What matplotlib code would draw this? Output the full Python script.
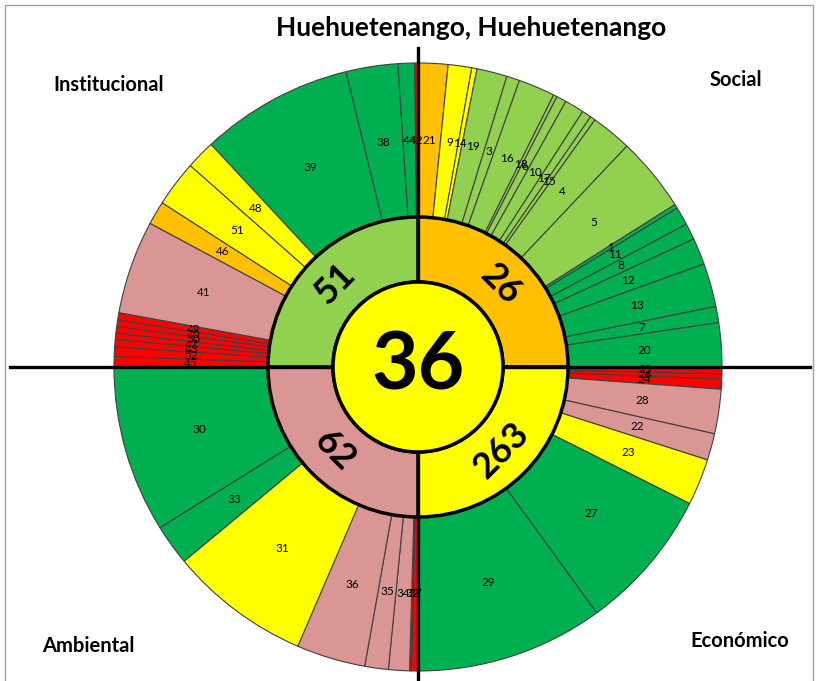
import numpy as np
import matplotlib
matplotlib.use("Agg")
import matplotlib.pyplot as plt
from matplotlib.patches import Rectangle

plt.rcParams["font.family"] = ["Lato", "DejaVu Sans"]

COLORS = {"G": "#00B050", "L": "#92D050", "Y": "#FFFF00",
          "O": "#FFC000", "P": "#DA9694", "R": "#FF0000"}

# outer ring, clockwise from the top: indicator id, angular share (deg), colour code
social_ids = [21, 9, 14, 19, 3, 16, 18, 6, 10, 17, 15, 4, 5, 1, 11, 8, 12, 13, 7, 20]
social_deg = [5.7, 4.5, 1.0, 5.8, 2.5, 7.0, 0.7, 1.9, 3.7, 1.8, 1.0, 7.8, 14.3,
              0.8, 3.5, 3.1, 5.1, 8.3, 3.1, 8.4]
social_col = "OYYLLLLLLLLLLGGGGGGG"

econ_ids = [25, 26, 24, 28, 22, 23, 27, 29]
econ_deg = [1.3, 1.0, 1.9, 8.5, 5.1, 8.9, 27.3, 36.0]
econ_col = "RRRPPYGG"

amb_ids = [37, 32, 34, 35, 36, 31, 33, 30]
amb_deg = [1.2, 0.4, 4.0, 4.5, 13.2, 27.0, 7.8, 31.9]
amb_col = "RRPPPYGG"

inst_ids = [45, 52, 43, 47, 50, 40, 49, 41, 46, 51, 48, 39, 38, 44, 42]
inst_deg = [2.0, 1.8, 1.4, 1.2, 1.3, 1.2, 1.4, 17.9, 4.5, 8.8, 5.6, 29.2, 9.9, 3.2, 0.6]
inst_col = "RRRRRRRPOYYGGGR"

# middle ring (dimensions) and centre value
dims = ["Social", "Económico", "Ambiental", "Institucional"]
dim_vals = [26, 263, 62, 51]
dim_col = "OYPL"
total_val = 36

W, H = 818, 681
cx, cy = 418, H - 367
R_OUT, R_MID, R_IN = 304, 150, 85

fig = plt.figure(figsize=(W / 100, H / 100), dpi=100)
ax = fig.add_axes([0, 0, 1, 1])

ids = social_ids + econ_ids + amb_ids + inst_ids
degs = social_deg + econ_deg + amb_deg + inst_deg
cols = [COLORS[c] for c in social_col + econ_col + amb_col + inst_col]

wedges, texts = ax.pie(degs, labels=[str(i) for i in ids], colors=cols,
                       startangle=90, counterclock=False, center=(cx, cy),
                       radius=R_OUT, labeldistance=(R_OUT + R_MID) / 2 / R_OUT,
                       wedgeprops=dict(width=R_OUT - R_MID, edgecolor="#404040",
                                       linewidth=0.8),
                       textprops=dict(fontsize=8.5, color="black"))
for t in texts:
    t.set_ha("center"); t.set_va("center")

mw, _ = ax.pie([1] * len(dims), colors=[COLORS[c] for c in dim_col],
               startangle=90, counterclock=False, center=(cx, cy),
               radius=R_MID, wedgeprops=dict(width=R_MID - R_IN,
                                             edgecolor="black", linewidth=2.5))
for w, v in zip(mw, dim_vals):
    mid = np.deg2rad((w.theta1 + w.theta2) / 2)
    r = (R_MID + R_IN) / 2
    rot = np.rad2deg(mid) - 90 if np.sin(mid) > 0 else np.rad2deg(mid) + 90
    ax.text(cx + r * np.cos(mid), cy + r * np.sin(mid), str(v), fontsize=26,
            fontweight="bold", rotation=rot, ha="center", va="center",
            rotation_mode="anchor", zorder=5)

# cross hairs sit over the rings but under the centre disc
ax.plot([10, 810], [cy, cy], color="black", lw=2.4, zorder=3)
ax.plot([cx, cx], [0, H - 48], color="black", lw=2.4, zorder=3)

cw, _ = ax.pie([1], colors=[COLORS["Y"]], center=(cx, cy), radius=R_IN,
               wedgeprops=dict(edgecolor="black", linewidth=2.5))
for w in cw:
    w.set_zorder(4)
ax.text(cx, cy, str(total_val), fontsize=58, fontweight="bold",
        ha="center", va="center", zorder=5)

ax.text(471, H - 28, "Huehuetenango, Huehuetenango", fontsize=19,
        fontweight="bold", ha="center", va="center")
ax.text(109, H - 85, "Institucional", fontsize=14.5, fontweight="bold", ha="center", va="center")
ax.text(736, H - 80, "Social", fontsize=14.5, fontweight="bold", ha="center", va="center")
ax.text(88, H - 646, "Ambiental", fontsize=14.5, fontweight="bold", ha="center", va="center")
ax.text(740, H - 641, "Económico", fontsize=14.5, fontweight="bold", ha="center", va="center")

ax.add_patch(Rectangle((5, -10), 808, H - 5 + 10, fill=False,
                       edgecolor="#A0A0A0", lw=1.0, zorder=6))

ax.set_xlim(0, W)
ax.set_ylim(0, H)
ax.set_aspect("auto")
ax.axis("off")

fig.savefig("out.png", dpi=100)
